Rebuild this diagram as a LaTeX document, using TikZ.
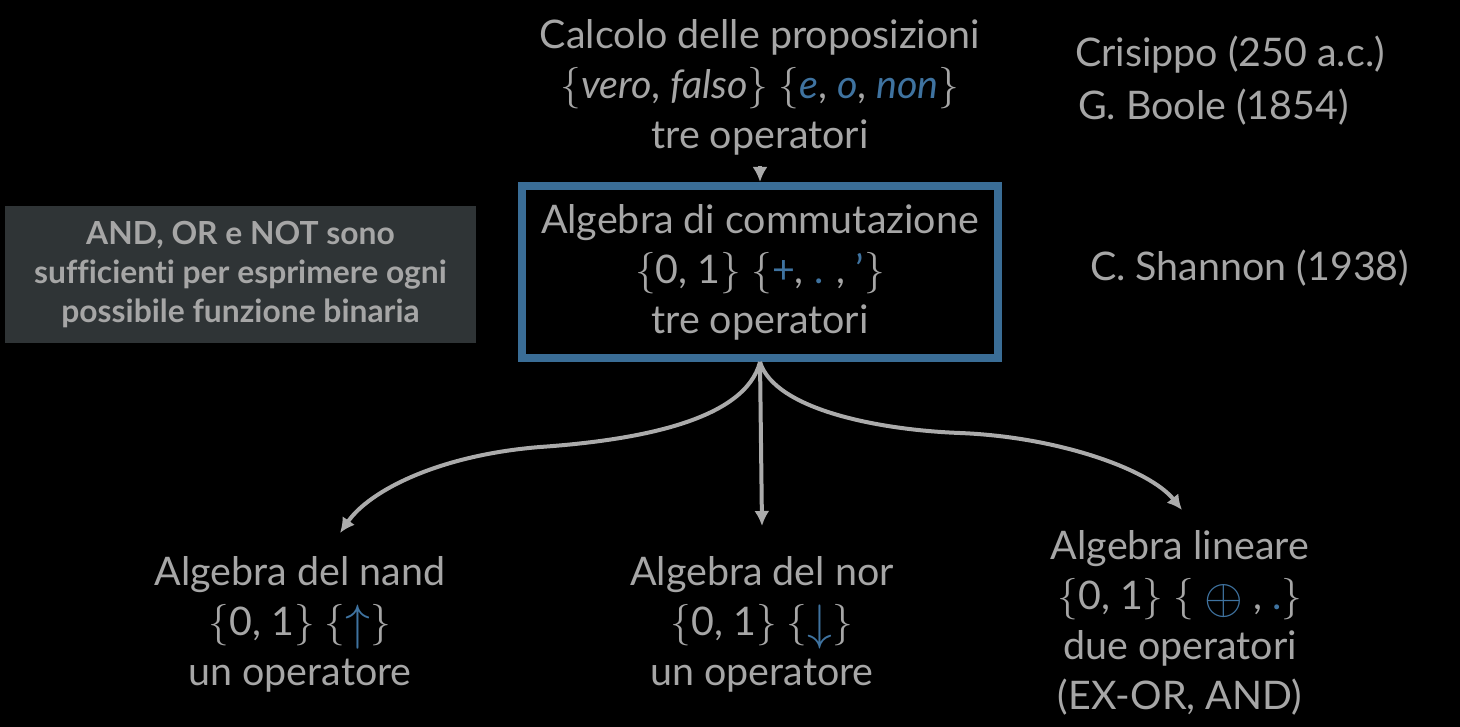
\documentclass[tikz,border=0pt]{standalone}
\usepackage{fontspec}
\setmainfont{Lato}[Ligatures=NoCommon]
\usepackage{xcolor}
\usetikzlibrary{arrows.meta}

\definecolor{txtgrey}{HTML}{A6A6A6}
\definecolor{arrowgrey}{HTML}{ABABAB}
\definecolor{opblue}{HTML}{3F73A0}
\definecolor{boxblue}{HTML}{3A6D96}
\definecolor{notegrey}{HTML}{2F3436}

\newcommand{\op}[1]{\textcolor{opblue}{#1}}
\newcommand{\bigop}[1]{\textcolor{opblue}{\smash{\raisebox{-2pt}{\scalebox{1.2}{$#1$}}}}}

\begin{document}
\begin{tikzpicture}[x=0.5pt,y=-0.5pt,
    txt/.style={text=txtgrey, align=center, font=\fontsize{19.7}{25}\selectfont},
    link/.style={draw=arrowgrey, line width=2pt, -{Latex[length=7.5pt,width=7.5pt]}}]
    \fill[black] (0,0) rectangle (1460,727);
    \useasboundingbox (0,0) rectangle (1460,727);

    % nodi principali
    \node[txt] (calcolo) at (760,87) {Calcolo delle proposizioni\\
      $\{$\textit{vero}, \textit{falso}$\}$ $\{$\op{\textit{e}}, \op{\textit{o}}, \op{\textit{non}}$\}$\\
      tre operatori};
    \node[txt, draw=boxblue, line width=4pt, minimum width=238pt, minimum height=86pt] (commut) at (760,272)
      {Algebra di commutazione\\ $\{$0, 1$\}$ $\{$\op{+}, \op{.} , \op{’}$\}$\\ tre operatori};
    \node[fill=notegrey, text=txtgrey, align=center, font=\fontsize{15.9}{19.5}\selectfont\bfseries,
      minimum width=235.5pt, minimum height=68.5pt] (nota) at (240.5,274.5)
      {AND, OR e NOT sono\\ sufficienti per esprimere ogni\\ possibile funzione binaria};

    % autori
    \node[txt, anchor=west] (crisippo) at (1068,55) {Crisippo (250 a.c.)};
    \node[txt, anchor=west] (boole) at (1071,107) {G. Boole (1854)};
    \node[txt, anchor=west] (shannon) at (1083,268) {C. Shannon (1938)};

    % algebre derivate
    \node[txt] (nand) at (300,624) {Algebra del nand\\ $\{$0, 1$\}$ $\{$\bigop{\uparrow}$\}$\\ un operatore};
    \node[txt] (nor) at (762,624) {Algebra del nor\\ $\{$0, 1$\}$ $\{$\bigop{\downarrow}$\}$\\ un operatore};
    \node[txt] (lineare) at (1180,623) {Algebra lineare\\ $\{$0, 1$\}$ $\{$ \bigop{\oplus} , \op{.}$\}$\\
      due operatori\\ (EX-OR, AND)};

    \coordinate (nandtip) at (340,533);
    \coordinate (nortip) at (762,526);
    \coordinate (lintip) at (1182,510);
    \coordinate (calctip) at (760,166);

    % frecce
    \draw[link] (calctip) -- (commut.north);
    \draw[link] (commut.south) .. controls (745,420) and (640,440) .. (540,447)
      .. controls (440,455) and (370,490) .. (nandtip);
    \draw[link] (commut.south) -- (nortip);
    \draw[link] (commut.south) .. controls (775,410) and (880,430) .. (960,433)
      .. controls (1060,437) and (1150,470) .. (lintip);
\end{tikzpicture}
\end{document}
